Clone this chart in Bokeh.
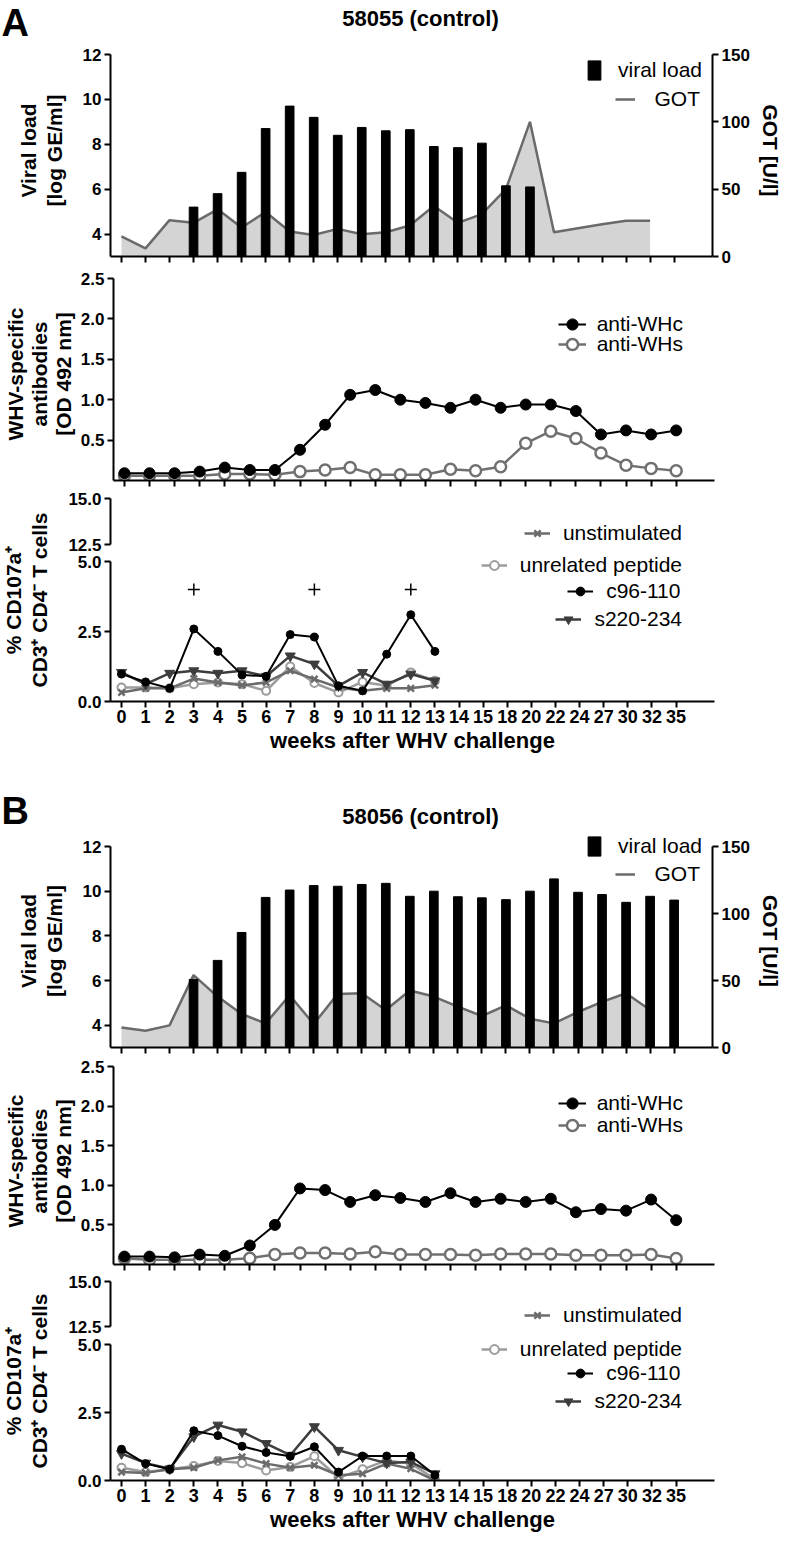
import math
from bokeh.plotting import figure
from bokeh.layouts import column, row
from bokeh.models import (Range1d, LinearAxis, FixedTicker, Legend, LegendItem,
                          Label, PrintfTickFormatter)
from bokeh.core.properties import value
from bokeh.embed import file_html
from bokeh.resources import INLINE

FONT = "Liberation Sans"
YTICK_FS = "17px"
XTICK_FS = "18px"
AXLAB_FS = "21px"
LEG_FS = 21

# ------------------------------------------------------------------ data
weeks = ["0", "1", "2", "3", "4", "5", "6", "7", "8", "9", "10", "11", "12", "13",
         "14", "15", "18", "20", "22", "24", "27", "30", "32", "35"]
week_pos = list(range(len(weeks)))
antibody_samples = list(range(23))
tcell_pos = list(range(14))          # weeks 0..13
got_pos = list(range(23))

# Panel A : 58055 (control)
A_viral_pos = list(range(3, 18))
A_viral_load = [5.2, 5.8, 6.75, 8.7, 9.7, 9.2, 8.4, 8.75, 8.6, 8.65, 7.9, 7.85, 8.05, 6.15, 6.1]
A_got = [15, 6, 27, 25, 35, 21.5, 33, 18.5, 16, 20.5, 16.5, 18, 23, 37.5, 25, 31.5, 50, 100,
         18, 21, 24, 26.5, 26.5]
A_anti_whc = [0.09, 0.09, 0.09, 0.11, 0.16, 0.13, 0.13, 0.38, 0.69, 1.06, 1.12, 1.0, 0.96,
              0.9, 1.0, 0.9, 0.94, 0.94, 0.86, 0.57, 0.62, 0.57, 0.62]
A_anti_whs = [0.06, 0.06, 0.06, 0.06, 0.08, 0.08, 0.07, 0.11, 0.13, 0.16, 0.07, 0.07, 0.07,
              0.14, 0.12, 0.17, 0.46, 0.61, 0.52, 0.34, 0.19, 0.15, 0.12]
A_unstim = [0.32, 0.47, 0.47, 0.82, 0.68, 0.58, 0.68, 1.1, 0.8, 0.5, 0.38, 0.47, 0.47, 0.58]
A_unrel = [0.5, 0.5, 0.47, 0.62, 0.68, 0.62, 0.38, 1.25, 0.66, 0.32, 0.7, 0.56, 1.04, 0.74]
A_c96 = [0.98, 0.7, 0.47, 2.59, 1.79, 0.95, 0.9, 2.39, 2.3, 0.56, 0.38, 1.69, 3.1, 1.79]
A_s220 = [1.04, 0.62, 1.01, 1.1, 1.01, 1.1, 0.9, 1.63, 1.34, 0.56, 1.04, 0.62, 0.98, 0.74]
A_plus_pos = [3, 8, 12]
A_plus_y = [4.0, 4.0, 4.0]

# Panel B : 58056 (control)
B_viral_pos = list(range(3, 24))
B_viral_load = [6.05, 6.9, 8.15, 9.72, 10.05, 10.25, 10.22, 10.3, 10.35, 9.77, 10.0, 9.75,
                9.7, 9.62, 10.0, 10.55, 9.95, 9.85, 9.5, 9.77, 9.6]
B_got = [15, 12.5, 16.5, 54, 38, 25, 18, 39, 17.5, 40, 40.5, 28, 42.5, 38, 30.5, 23.5, 31.5,
         21.5, 18, 26.5, 34, 40.5, 28]
B_anti_whc = [0.10, 0.10, 0.09, 0.125, 0.11, 0.24, 0.5, 0.96, 0.94, 0.79, 0.875, 0.84, 0.79,
              0.9, 0.79, 0.83, 0.79, 0.83, 0.66, 0.7, 0.68, 0.82, 0.56]
B_anti_whs = [0.075, 0.06, 0.06, 0.06, 0.06, 0.08, 0.125, 0.146, 0.146, 0.133, 0.16, 0.125,
              0.125, 0.125, 0.117, 0.133, 0.133, 0.133, 0.117, 0.117, 0.117, 0.125, 0.075]
B_unstim = [0.31, 0.28, 0.41, 0.47, 0.74, 0.87, 0.62, 0.47, 0.56, 0.19, 0.25, 0.62, 0.43, 0.0]
B_unrel = [0.47, 0.31, 0.41, 0.53, 0.72, 0.64, 0.37, 0.5, 0.89, 0.1, 0.41, 0.74, 0.62, 0.05]
B_c96 = [1.15, 0.62, 0.41, 1.83, 1.65, 1.26, 1.03, 0.89, 1.24, 0.31, 0.9, 0.9, 0.9, 0.2]
B_s220 = [0.99, 0.64, 0.43, 1.61, 2.04, 1.79, 1.36, 0.93, 1.98, 1.11, 0.87, 0.64, 0.68, 0.25]
B_plus_pos = []
B_plus_y = []

# ------------------------------------------------------------------ style / layout
GOT_FILL = "#d4d4d4"
GOT_LINE = "#6a6a6a"
WHS_COL = "#707070"
UNSTIM_COL = "#6b6b6b"
UNREL_COL = "#9c9c9c"
S220_COL = "#3d3d3d"

W = 784
BL, BR = 110, 70
LABW = 60                          # width of the side figure holding the broken-axis label
FRAME_L = 8 + BL
FRAME_W = W - BL - BR
X0_PX, X1_PX = 129.0, 683.5        # page x of first / last category

AW = {' ': 278, 'a': 556, 'b': 556, 'c': 500, 'd': 556, 'e': 556, 'f': 278, 'g': 556,
      'h': 556, 'i': 222, 'j': 222, 'k': 500, 'l': 222, 'm': 833, 'n': 556, 'o': 556,
      'p': 556, 'q': 556, 'r': 333, 's': 500, 't': 278, 'u': 556, 'v': 500, 'w': 722,
      'x': 500, 'y': 500, 'z': 500, '-': 333, 'G': 778, 'O': 778, 'T': 611, 'W': 944,
      'H': 722}


def text_w(s, size):
    return sum(AW.get(ch, 556) for ch in s) * size / 1000.0


def cat_range(n):
    step = (X1_PX - X0_PX) / (n - 1)
    return Range1d((FRAME_L - X0_PX) / step, (FRAME_L + FRAME_W - X0_PX) / step)


def yrange_for(frame_top, frame_bot, v_lo, px_lo, v_hi, px_hi):
    ppu = (px_lo - px_hi) / float(v_hi - v_lo)
    return Range1d(v_lo - (frame_bot - px_lo) / ppu, v_hi + (px_hi - frame_top) / ppu)


def new_fig(canvas, frame, xr, yr, x_axis=True, width=W, left=BL):
    c0, c1 = canvas
    f0, f1 = frame
    kw = dict(width=width, height=int(c1 - c0), x_range=xr, y_range=yr, title=None,
              output_backend="svg", toolbar_location=None,
              min_border_left=left, min_border_right=BR,
              min_border_top=int(f0 - c0), min_border_bottom=int(c1 - f1))
    if not x_axis:
        kw["x_axis_type"] = None
    p = figure(**kw)
    p.frame_align = False
    p.outline_line_color = None
    p.grid.visible = False
    p.background_fill_color = "white"
    p.border_fill_color = "white"
    return p


def text_fig(x0, width, y0, y1):
    """Figure whose frame is its whole canvas, ranges in page pixels (for free text)."""
    p = figure(width=width, height=int(y1 - y0), x_range=Range1d(x0, x0 + width),
               y_range=Range1d(y1, y0), title=None, x_axis_type=None, y_axis_type=None,
               output_backend="svg", toolbar_location=None, min_border=0)
    p.frame_align = False
    p.outline_line_color = None
    p.grid.visible = False
    return p


def style_axis(ax, labels=True, fs=YTICK_FS):
    ax.axis_line_width = 2
    ax.axis_line_color = "black"
    ax.major_tick_line_width = 2
    ax.major_tick_line_color = "black"
    ax.major_tick_out = 6
    ax.major_tick_in = 0
    ax.minor_tick_line_color = None
    ax.major_label_text_font = FONT
    ax.major_label_text_font_style = "bold"
    ax.major_label_text_font_size = fs if labels else "1px"
    ax.major_label_text_color = "black"
    ax.major_label_standoff = 3 if labels else 0
    ax.axis_label_text_font = FONT
    ax.axis_label_text_font_style = "bold"
    ax.axis_label_text_font_size = AXLAB_FS
    ax.axis_label_text_color = "black"
    ax.axis_label_text_line_height = 1.1


def hide_labels(ax, ticks):
    ax.major_label_overrides = {t: "" for t in ticks}


def add_item_legend(p, label, renderers, right_px, center_page_y, frame_top, frame_h,
                    glyph_w, glyph_h, standoff, size=LEG_FS):
    tw = text_w(label, size)
    vx = right_px - (glyph_w + standoff + tw)
    vy = frame_h - (center_page_y - frame_top) - glyph_h / 2.0
    leg = Legend(items=[LegendItem(label=value(label), renderers=renderers)],
                 location=(vx, vy), orientation="vertical", padding=0, margin=0,
                 spacing=0, border_line_color=None, background_fill_alpha=0,
                 glyph_width=glyph_w, glyph_height=glyph_h, label_height=glyph_h,
                 label_standoff=standoff, label_text_font=FONT,
                 label_text_font_size=f"{size}px", label_text_color="black")
    p.add_layout(leg)


def build(letter, title, viral_pos, viral, got, whc, whs, unstim, unrel, c96, s220,
          plus_pos, plus_y, g):
    items = []
    # ---------------- header (letter + title)
    h0, h1 = g["head"]
    ph = text_fig(8, W, h0, h1)
    ph.add_layout(Label(x=9, y=g["letter_y"], text=letter, text_align="left",
                        text_baseline="middle", text_font=FONT, text_font_style="bold",
                        text_font_size="38px", text_color="black"))
    ph.add_layout(Label(x=428, y=g["title_y"], text=title, text_align="center",
                        text_baseline="middle", text_font=FONT, text_font_style="bold",
                        text_font_size="22px", text_color="black"))
    items.append(ph)

    # ---------------- top : viral load + GOT
    canvas, frame, y12 = g["top"]
    ft, fb = frame
    p = new_fig(canvas, frame, cat_range(24), yrange_for(ft, fb, 3, fb, 12, y12))
    p.extra_y_ranges = {"got": yrange_for(ft, fb, 0, fb, 150, y12)}
    p.varea(x=got_pos, y1=0, y2=got, y_range_name="got", fill_color=GOT_FILL)
    r_got = p.line(got_pos, got, y_range_name="got", line_color=GOT_LINE, line_width=2.5)
    r_bar = p.vbar(x=viral_pos, top=viral, bottom=3, width=0.36,
                   fill_color="black", line_color="black")
    ax_r = LinearAxis(y_range_name="got", ticker=FixedTicker(ticks=[0, 50, 100, 150]),
                      axis_label="GOT [U/l]", bounds=(0, 150))
    style_axis(ax_r)
    ax_r.axis_label_standoff = 6
    p.add_layout(ax_r, "right")
    ax_l = p.left[0]
    ax_l.ticker = FixedTicker(ticks=[4, 6, 8, 10, 12])
    ax_l.bounds = (3, 12)
    ax_l.axis_label = "Viral load\n[log GE/ml]"
    style_axis(ax_l)
    ax_l.axis_label_standoff = 14
    ax_b = p.below[0]
    ax_b.ticker = FixedTicker(ticks=week_pos)
    style_axis(ax_b, labels=False)
    hide_labels(ax_b, week_pos)
    fh = fb - ft
    add_item_legend(p, "viral load", [r_bar], 592, g["leg_top"][0], ft, fh, 16, 24, 16)
    add_item_legend(p, "GOT", [r_got], 590, g["leg_top"][1], ft, fh, 20, 24, 19)
    items.append(p)

    # ---------------- middle : antibodies
    canvas, frame, y25 = g["mid"]
    ft, fb = frame
    p2 = new_fig(canvas, frame, cat_range(23), yrange_for(ft, fb, 0, fb, 2.5, y25))
    l_whs = p2.line(antibody_samples, whs, line_color=WHS_COL, line_width=2.5)
    s_whs = p2.scatter(antibody_samples, whs, marker="circle", size=11, fill_color="white",
                       line_color=WHS_COL, line_width=2.5)
    l_whc = p2.line(antibody_samples, whc, line_color="black", line_width=2)
    s_whc = p2.scatter(antibody_samples, whc, marker="circle", size=11, fill_color="black",
                       line_color="black")
    ax_l = p2.left[0]
    ax_l.ticker = FixedTicker(ticks=[0.5, 1.0, 1.5, 2.0, 2.5])
    ax_l.bounds = (0, 2.5)
    ax_l.formatter = PrintfTickFormatter(format="%.1f")
    ax_l.axis_label = "WHV-specific\nantibodies\n[OD 492 nm]"
    style_axis(ax_l)
    ax_l.axis_label_text_line_height = 1.05
    ax_l.axis_label_standoff = 3
    ax_b = p2.below[0]
    ax_b.ticker = FixedTicker(ticks=antibody_samples)
    style_axis(ax_b, labels=False)
    hide_labels(ax_b, antibody_samples)
    fh = fb - ft
    add_item_legend(p2, "anti-WHc", [l_whc, s_whc], 570, g["leg_mid"][0], ft, fh, 28, 28, 11)
    add_item_legend(p2, "anti-WHs", [l_whs, s_whs], 570, g["leg_mid"][1], ft, fh, 28, 28, 11)
    items.append(p2)

    # ---------------- bottom (broken axis): side label + two segments
    canvas_u, frame_u, y15, y125 = g["up"]
    canvas_l, frame_l, y5 = g["low"]
    bw = W - LABW
    bl = BL - LABW
    pl = text_fig(8, LABW, canvas_u[0], canvas_l[1])
    pl.add_layout(Label(x=34, y=(y15 + frame_l[1]) / 2.0,
                        text="% CD107a\u207a\nCD3\u207a CD4\u207b T cells",
                        angle=math.pi / 2, text_align="center", text_baseline="middle",
                        text_font=FONT, text_font_style="bold", text_font_size=AXLAB_FS,
                        text_line_height=1.1, text_color="black"))

    ft, fb = frame_u
    p3 = new_fig(canvas_u, frame_u, cat_range(24), yrange_for(ft, fb, 12.5, y125, 15, y15),
                 x_axis=False, width=bw, left=bl)
    lu = p3.line(tcell_pos, unstim, line_color=UNSTIM_COL, line_width=2.5)
    su = p3.scatter(tcell_pos, unstim, marker="x", size=9, line_color=UNSTIM_COL, line_width=2.5)
    ax_l = p3.left[0]
    ax_l.ticker = FixedTicker(ticks=[12.5, 15.0])
    ax_l.bounds = (12.5, 15)
    ax_l.formatter = PrintfTickFormatter(format="%.1f")
    style_axis(ax_l)
    add_item_legend(p3, "unstimulated", [lu, su], 572, g["leg_up"], ft, fb - ft, 26, 22, 13)

    ft, fb = frame_l
    p4 = new_fig(canvas_l, frame_l, cat_range(24), yrange_for(ft, fb, 0, fb, 5, y5),
                 width=bw, left=bl)
    l_unrel = p4.line(tcell_pos, unrel, line_color=UNREL_COL, line_width=2.5)
    s_unrel = p4.scatter(tcell_pos, unrel, marker="circle", size=8, fill_color="white",
                         line_color=UNREL_COL, line_width=2)
    p4.line(tcell_pos, unstim, line_color=UNSTIM_COL, line_width=2.5)
    p4.scatter(tcell_pos, unstim, marker="x", size=9, line_color=UNSTIM_COL, line_width=2.5)
    l_s220 = p4.line(tcell_pos, s220, line_color=S220_COL, line_width=2.5)
    s_s220 = p4.scatter(tcell_pos, s220, marker="inverted_triangle", size=10,
                        fill_color=S220_COL, line_color=S220_COL)
    l_c96 = p4.line(tcell_pos, c96, line_color="black", line_width=2)
    s_c96 = p4.scatter(tcell_pos, c96, marker="circle", size=8, fill_color="black",
                       line_color="black")
    if plus_pos:
        p4.scatter(plus_pos, plus_y, marker="cross", size=12, line_color="black", line_width=1.5)
    ax_l = p4.left[0]
    ax_l.ticker = FixedTicker(ticks=[0.0, 2.5, 5.0])
    ax_l.bounds = (0, 5)
    ax_l.formatter = PrintfTickFormatter(format="%.1f")
    style_axis(ax_l)
    ax_b = p4.below[0]
    ax_b.ticker = FixedTicker(ticks=week_pos)
    ax_b.major_label_overrides = {i: w for i, w in zip(week_pos, weeks)}
    ax_b.axis_label = "weeks after WHV challenge"
    style_axis(ax_b, fs=XTICK_FS)
    ax_b.major_label_standoff = 2
    ax_b.axis_label_text_font_size = "22px"
    ax_b.axis_label_standoff = 2
    fh = fb - ft
    lr = g["leg_low"]
    add_item_legend(p4, "unrelated peptide", [l_unrel, s_unrel], 572, lr[0], ft, fh, 26, 22, 13)
    add_item_legend(p4, "c96-110", [l_c96, s_c96], 572, lr[1], ft, fh, 26, 22, 13)
    add_item_legend(p4, "s220-234", [l_s220, s_s220], 572, lr[2], ft, fh, 26, 22, 13)

    items.append(row(pl, column(p3, p4)))
    return items


# page coordinates (px) of canvases, frames and reference tick lines
GEO_A = dict(head=(8, 52), letter_y=30, title_y=26,
             top=((52, 275), (52, 264), 62),
             mid=((275, 497), (275, 488), 286),
             up=((497, 561), (497, 561), 506, 552),
             low=((561, 769), (561, 709), 569),
             leg_top=[78, 107], leg_mid=[332, 352], leg_up=541.7,
             leg_low=[574, 599.5, 628.3])
GEO_B = dict(head=(769, 842), letter_y=818, title_y=824,
             top=((842, 1065), (842, 1055), 854),
             mid=((1065, 1280), (1065, 1272), 1074),
             up=((1280, 1344), (1280, 1344), 1289, 1334),
             low=((1344, 1544), (1344, 1488), 1352),
             leg_top=[854, 882], leg_mid=[1111, 1133], leg_up=1324,
             leg_low=[1358, 1382, 1410])

itemsA = build("A", "58055 (control)", A_viral_pos, A_viral_load, A_got, A_anti_whc, A_anti_whs,
               A_unstim, A_unrel, A_c96, A_s220, A_plus_pos, A_plus_y, GEO_A)
itemsB = build("B", "58056 (control)", B_viral_pos, B_viral_load, B_got, B_anti_whc, B_anti_whs,
               B_unstim, B_unrel, B_c96, B_s220, B_plus_pos, B_plus_y, GEO_B)

layout = column(*itemsA, *itemsB)
open("out.html", "w").write(file_html(layout, INLINE))
